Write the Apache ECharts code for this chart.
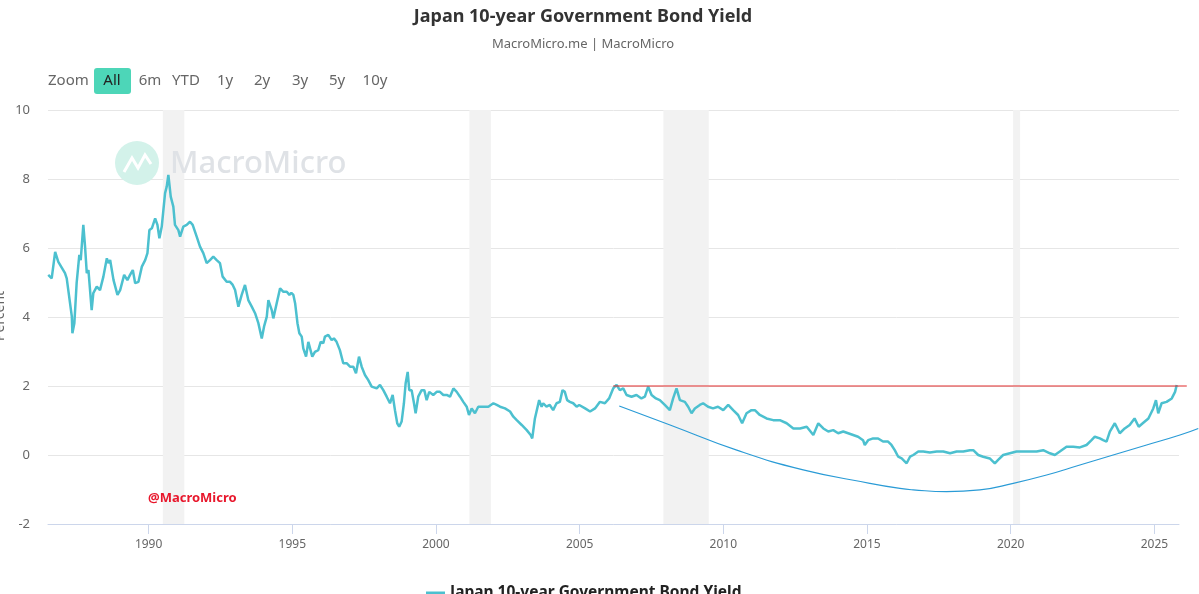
<!DOCTYPE html>
<html>
<head>
<meta charset="utf-8">
<title>Japan 10-year Government Bond Yield</title>
<script src="https://cdn.jsdelivr.net/npm/echarts@6/dist/echarts.min.js"></script>
<style>
    html, body { margin: 0; padding: 0; background: #fff; }
    #chart { width: 1199px; height: 594px; }
</style>
</head>
<body>
<div id="chart"></div>
<script>
var seriesName = 'Japan 10-year Government Bond Yield';

// yield readings (percent) with their dates
var dates = [
    '1986-07-05', '1986-08-18', '1986-10-01', '1986-11-10', '1987-02-03', '1987-02-25', '1987-05-01', '1987-05-08',
    '1987-06-02', '1987-07-01', '1987-08-04', '1987-08-22', '1987-09-24', '1987-10-16', '1987-11-07', '1987-11-28',
    '1988-01-08', '1988-01-29', '1988-03-13', '1988-04-23', '1988-06-05', '1988-07-19', '1988-08-09', '1988-08-30',
    '1988-10-12', '1988-12-01', '1989-01-04', '1989-02-24', '1989-04-06', '1989-05-10', '1989-06-14', '1989-07-14',
    '1989-08-25', '1989-10-07', '1989-11-18', '1989-12-17', '1990-01-11', '1990-02-11', '1990-03-25', '1990-04-23',
    '1990-05-18', '1990-06-17', '1990-07-29', '1990-08-19', '1990-09-09', '1990-10-09', '1990-11-11', '1990-12-02',
    '1991-01-14', '1991-02-05', '1991-03-18', '1991-04-30', '1991-06-11', '1991-07-15', '1991-09-04', '1991-10-16',
    '1991-11-27', '1992-01-09', '1992-02-20', '1992-04-02', '1992-05-15', '1992-06-26', '1992-07-30', '1992-09-19',
    '1992-11-01', '1992-12-05', '1993-01-04', '1993-02-15', '1993-03-29', '1993-05-10', '1993-06-21', '1993-08-04',
    '1993-09-15', '1993-10-27', '1993-12-09', '1994-01-07', '1994-02-11', '1994-03-03', '1994-04-15', '1994-05-05',
    '1994-06-17', '1994-07-30', '1994-09-10', '1994-10-23', '1994-11-25', '1994-12-20', '1995-01-15', '1995-02-06',
    '1995-03-08', '1995-04-01', '1995-05-01', '1995-05-21', '1995-06-25', '1995-07-24', '1995-08-14', '1995-09-12',
    '1995-10-16', '1995-11-27', '1995-12-28', '1996-01-30', '1996-02-20', '1996-04-03', '1996-05-15', '1996-06-13',
    '1996-07-17', '1996-08-28', '1996-10-10', '1996-11-22', '1997-01-04', '1997-02-15', '1997-03-21', '1997-04-28',
    '1997-06-01', '1997-07-13', '1997-08-24', '1997-10-06', '1997-12-09', '1998-01-20', '1998-03-03', '1998-04-15',
    '1998-05-27', '1998-06-30', '1998-07-29', '1998-08-27', '1998-09-21', '1998-10-22', '1998-11-20', '1998-12-12',
    '1999-01-07', '1999-01-27', '1999-02-26', '1999-03-28', '1999-04-18', '1999-05-21', '1999-07-03', '1999-08-06',
    '1999-09-05', '1999-10-08', '1999-11-28', '2000-01-10', '2000-02-21', '2000-04-04', '2000-05-17', '2000-06-28',
    '2000-08-10', '2000-09-21', '2000-11-02', '2000-12-14', '2001-01-26', '2001-02-24', '2001-03-30', '2001-05-11',
    '2001-06-22', '2001-08-25', '2001-10-28', '2001-12-31', '2002-02-12', '2002-03-26', '2002-05-28', '2002-07-31',
    '2002-09-11', '2002-10-24', '2002-12-26', '2003-02-28', '2003-04-19', '2003-05-09', '2003-06-12', '2003-07-03',
    '2003-08-05', '2003-09-05', '2003-09-25', '2003-11-06', '2003-12-18', '2004-01-30', '2004-03-13', '2004-04-24',
    '2004-05-28', '2004-06-26', '2004-07-26', '2004-08-29', '2004-10-11', '2004-11-23', '2004-12-26', '2005-03-11',
    '2005-05-13', '2005-07-15', '2005-09-16', '2005-11-18', '2006-01-10', '2006-03-03', '2006-04-15', '2006-05-27',
    '2006-07-09', '2006-08-20', '2006-10-22', '2006-12-24', '2007-02-25', '2007-04-10', '2007-05-22', '2007-07-04',
    '2007-08-28', '2007-10-17', '2007-12-19', '2008-02-21', '2008-04-03', '2008-05-16', '2008-06-28', '2008-08-30',
    '2008-10-11', '2008-11-23', '2009-01-04', '2009-03-08', '2009-04-19', '2009-06-21', '2009-08-23', '2009-10-25',
    '2009-12-31', '2010-03-04', '2010-05-06', '2010-07-08', '2010-08-28', '2010-10-23', '2010-12-25', '2011-02-06',
    '2011-04-10', '2011-07-04', '2011-09-27', '2011-12-20', '2012-03-16', '2012-06-09', '2012-09-02', '2012-11-26',
    '2013-02-18', '2013-04-22', '2013-06-25', '2013-08-27', '2013-10-29', '2013-12-31', '2014-03-05', '2014-05-07',
    '2014-07-09', '2014-09-10', '2014-11-12', '2014-12-04', '2015-01-16', '2015-03-20', '2015-05-22', '2015-07-24',
    '2015-09-26', '2015-11-08', '2015-12-20', '2016-02-02', '2016-03-17', '2016-05-19', '2016-07-01', '2016-08-12',
    '2016-10-14', '2016-12-16', '2017-03-10', '2017-06-06', '2017-08-28', '2017-11-22', '2018-02-14', '2018-05-09',
    '2018-08-01', '2018-09-13', '2018-11-15', '2019-01-17', '2019-04-11', '2019-06-14', '2019-07-26', '2019-09-28',
    '2019-12-22', '2020-03-16', '2020-06-09', '2020-09-02', '2020-11-26', '2021-02-18', '2021-05-14', '2021-07-16',
    '2021-09-17', '2021-12-11', '2022-03-06', '2022-05-30', '2022-08-23', '2022-10-25', '2022-12-06', '2023-02-08',
    '2023-03-22', '2023-05-04', '2023-06-15', '2023-08-17', '2023-10-19', '2023-12-21', '2024-02-22', '2024-04-24',
    '2024-06-16', '2024-08-06', '2024-10-17', '2024-12-18', '2025-01-21', '2025-02-19', '2025-04-03', '2025-06-05',
    '2025-08-10', '2025-09-21', '2025-10-12'
];
var yields = [
    5.22, 5.12, 5.89, 5.60, 5.27, 5.12, 4.01, 3.53,
    3.82, 4.98, 5.80, 5.65, 6.67, 6.04, 5.27, 5.36,
    4.20, 4.69, 4.88, 4.78, 5.17, 5.70, 5.56, 5.65,
    5.07, 4.64, 4.78, 5.22, 5.07, 5.22, 5.36, 4.98,
    5.02, 5.46, 5.65, 5.85, 6.52, 6.57, 6.86, 6.67,
    6.28, 6.62, 7.59, 7.78, 8.12, 7.49, 7.20, 6.67,
    6.52, 6.33, 6.62, 6.67, 6.76, 6.67, 6.33, 6.04,
    5.85, 5.56, 5.65, 5.75, 5.65, 5.56, 5.17, 5.02,
    5.02, 4.93, 4.78, 4.30, 4.64, 4.93, 4.49, 4.30,
    4.11, 3.82, 3.38, 3.72, 4.01, 4.49, 4.20, 3.96,
    4.40, 4.83, 4.73, 4.73, 4.64, 4.70, 4.64, 4.40,
    3.82, 3.53, 3.43, 3.09, 2.85, 3.28, 3.33, 2.85,
    2.99, 3.04, 3.28, 3.24, 3.43, 3.48, 3.33, 3.38,
    3.28, 3.04, 2.66, 2.66, 2.56, 2.56, 2.37, 2.85,
    2.56, 2.32, 2.17, 1.98, 1.93, 2.03, 1.88, 1.69,
    1.50, 1.74, 1.30, 0.92, 0.82, 0.97, 1.50, 2.08,
    2.41, 1.88, 1.88, 1.50, 1.21, 1.69, 1.88, 1.88,
    1.59, 1.83, 1.74, 1.83, 1.83, 1.74, 1.74, 1.69,
    1.93, 1.83, 1.69, 1.54, 1.40, 1.16, 1.35, 1.21,
    1.40, 1.40, 1.40, 1.50, 1.45, 1.40, 1.35, 1.26,
    1.11, 1.01, 0.87, 0.72, 0.58, 0.48, 1.06, 1.01,
    1.59, 1.40, 1.50, 1.40, 1.45, 1.30, 1.50, 1.54,
    1.88, 1.83, 1.59, 1.54, 1.50, 1.40, 1.45, 1.35,
    1.26, 1.35, 1.54, 1.50, 1.64, 1.93, 2.03, 1.88,
    1.93, 1.74, 1.69, 1.74, 1.64, 1.69, 1.98, 1.74,
    1.64, 1.59, 1.45, 1.30, 1.64, 1.93, 1.59, 1.54,
    1.40, 1.21, 1.35, 1.45, 1.50, 1.40, 1.35, 1.40,
    1.30, 1.45, 1.30, 1.16, 0.92, 1.21, 1.30, 1.30,
    1.16, 1.06, 1.01, 1.01, 0.92, 0.77, 0.77, 0.82,
    0.58, 0.92, 0.77, 0.68, 0.72, 0.63, 0.68, 0.63,
    0.58, 0.53, 0.43, 0.29, 0.43, 0.48, 0.48, 0.39,
    0.39, 0.29, 0.14, -0.05, -0.10, -0.24, -0.05, 0.00,
    0.10, 0.10, 0.07, 0.10, 0.10, 0.05, 0.10, 0.10,
    0.14, 0.14, 0.00, -0.05, -0.10, -0.24, -0.14, 0.00,
    0.05, 0.10, 0.10, 0.10, 0.10, 0.14, 0.05, 0.00,
    0.10, 0.24, 0.24, 0.22, 0.29, 0.43, 0.53, 0.48,
    0.43, 0.39, 0.68, 0.92, 0.63, 0.77, 0.87, 1.06,
    0.82, 0.92, 1.06, 1.35, 1.59, 1.21, 1.50, 1.54,
    1.64, 1.83, 2.03
];

// hand-drawn annotations: a 2% cap line and a curved trend
var capDates = ['2006-03-03', '2026-02-17'];
var capValues = [2, 2];
var trendDates = [
    '2006-05-19', '2008-02-24', '2010-06-21', '2012-10-12', '2015-02-06', '2016-02-24', '2016-08-11', '2017-10-09',
    '2018-12-06', '2020-02-03', '2021-04-02', '2022-05-30', '2023-07-27', '2024-09-24', '2025-11-22', '2026-07-13'
];
var trendValues = [
    1.42, 0.87, 0.14, -0.43, -0.82, -0.97, -1.01, -1.06,
    -1.01, -0.82, -0.58, -0.29, 0.00, 0.29, 0.58, 0.77
];

// shaded recession periods
var recessionStart = ['1990-07-01', '2001-03-01', '2007-12-01', '2020-02-01'];
var recessionEnd = ['1991-03-31', '2001-11-30', '2009-06-30', '2020-04-30'];

var tickYears = [1990, 1995, 2000, 2005, 2010, 2015, 2020, 2025];
var rangeLabels = ['All', '6m', 'YTD', '1y', '2y', '3y', '5y', '10y'];

var FONT = '"Noto Sans", "Open Sans", sans-serif';

function toTime(s) {
    var p = s.split('-');
    return Date.UTC(+p[0], +p[1] - 1, +p[2]);
}

function pairs(xs, ys) {
    var out = [];
    for (var i = 0; i < xs.length; i++) {
        out.push([toTime(xs[i]), ys[i]]);
    }
    return out;
}

function rangeButtons() {
    var centers = [112, 150, 186, 225, 262, 300, 337, 375];
    var items = [{
        type: 'text', x: 48, y: 81,
        style: { text: 'Zoom', font: '15px ' + FONT, fill: '#666', verticalAlign: 'middle' }
    }, {
        type: 'rect', shape: { x: 94, y: 68, width: 37, height: 26, r: 3 },
        style: { fill: '#4dd6b8' }
    }];
    for (var i = 0; i < rangeLabels.length; i++) {
        items.push({
            type: 'text', x: centers[i], y: 81,
            style: {
                text: rangeLabels[i], font: '15px ' + FONT,
                fill: i === 0 ? '#222' : '#666', align: 'center', verticalAlign: 'middle'
            }
        });
    }
    return items;
}

function watermark() {
    return [{
        type: 'circle', z: 20, shape: { cx: 137, cy: 163, r: 22 },
        style: { fill: '#d3f2ea' }
    }, {
        type: 'polyline', z: 21,
        shape: { points: [[124, 172], [132, 158], [138, 168], [145, 155], [151, 164]] },
        style: { stroke: '#fff', lineWidth: 3, fill: null }
    }, {
        type: 'text', z: 20, x: 170, y: 164,
        style: { text: 'MacroMicro', font: '500 31px ' + FONT, fill: '#dfe2e6', verticalAlign: 'middle' }
    }, {
        type: 'text', z: 20, x: 148, y: 498,
        style: { text: '@MacroMicro', font: 'bold 13px ' + FONT, fill: '#e8172c', verticalAlign: 'middle' }
    }, {
        type: 'text', x: 0, y: 316, rotation: Math.PI / 2,
        style: { text: 'Percent', font: '14px ' + FONT, fill: '#666', align: 'center', verticalAlign: 'middle' }
    }];
}

function drawChart() {
    var chart = echarts.init(document.getElementById('chart'));
    var bands = [];
    for (var i = 0; i < recessionStart.length; i++) {
        bands.push([{ xAxis: toTime(recessionStart[i]) }, { xAxis: toTime(recessionEnd[i]) }]);
    }
    var ticks = tickYears.map(function(y) { return Date.UTC(y, 0, 1); });

    var xMin = toTime('1986-07-02');
    var xMax = toTime('2025-11-10');
    var plotW = 1199 - 48 - 20;
    // the annotations run past the plot edge, so they sit on an unclipped copy of the scale
    var xMaxWide = xMin + (xMax - xMin) * (1199 - 48) / plotW;

    var option = {
        animation: false,
        textStyle: { fontFamily: FONT },
        title: {
            text: seriesName,
            subtext: 'MacroMicro.me | MacroMicro',
            left: 578,
            textAlign: 'center',
            top: 3,
            itemGap: 12,
            textStyle: { fontSize: 18, fontWeight: 'bold', color: '#333', fontFamily: FONT },
            subtextStyle: { fontSize: 13, color: '#666', fontFamily: FONT }
        },
        legend: {
            data: [seriesName],
            left: 421,
            top: 580,
            icon: 'rect',
            itemWidth: 19,
            itemHeight: 3,
            itemGap: 8,
            textStyle: { fontSize: 15.5, fontWeight: 'bold', color: '#222', fontFamily: FONT }
        },
        grid: [
            { left: 48, right: 20, top: 110, bottom: 70 },
            { left: 48, right: 0, top: 110, bottom: 70 }
        ],
        // dates are kept as UTC timestamps on a value axis so the year ticks can be placed exactly
        xAxis: [{
            type: 'value',
            gridIndex: 0,
            min: xMin,
            max: xMax,
            axisLine: { onZero: false, lineStyle: { color: '#ccd6eb' } },
            axisTick: { show: true, length: 10, customValues: ticks, lineStyle: { color: '#ccd6eb' } },
            axisLabel: {
                customValues: ticks,
                margin: 15,
                fontSize: 12,
                color: '#666',
                formatter: function(v) { return String(new Date(v).getUTCFullYear()); }
            },
            splitLine: { show: false }
        }, {
            type: 'value',
            gridIndex: 1,
            min: xMin,
            max: xMaxWide,
            show: false
        }],
        yAxis: [{
            type: 'value',
            gridIndex: 0,
            min: -2,
            max: 10,
            interval: 2,
            axisLine: { show: false },
            axisTick: { show: false },
            axisLabel: { fontSize: 13, color: '#666', margin: 18 },
            splitLine: { lineStyle: { color: '#e6e6e6' } }
        }, {
            type: 'value',
            gridIndex: 1,
            min: -2,
            max: 10,
            interval: 2,
            show: false
        }],
        graphic: rangeButtons().concat(watermark()),
        series: [{
            name: seriesName,
            type: 'line',
            data: pairs(dates, yields),
            showSymbol: false,
            lineStyle: { color: '#4cc0cf', width: 2.5 },
            itemStyle: { color: '#4cc0cf' },
            z: 3,
            markArea: {
                silent: true,
                itemStyle: { color: '#f2f2f2' },
                data: bands
            }
        }, {
            name: 'cap',
            type: 'line',
            xAxisIndex: 1,
            yAxisIndex: 1,
            data: pairs(capDates, capValues),
            showSymbol: false,
            lineStyle: { color: '#e02a2a', width: 1 },
            z: 4
        }, {
            name: 'trend',
            type: 'line',
            xAxisIndex: 1,
            yAxisIndex: 1,
            data: pairs(trendDates, trendValues),
            showSymbol: false,
            smooth: true,
            lineStyle: { color: '#2a9bd6', width: 1.2 },
            z: 4
        }]
    };
    chart.setOption(option);
}

drawChart();
</script>
</body>
</html>
